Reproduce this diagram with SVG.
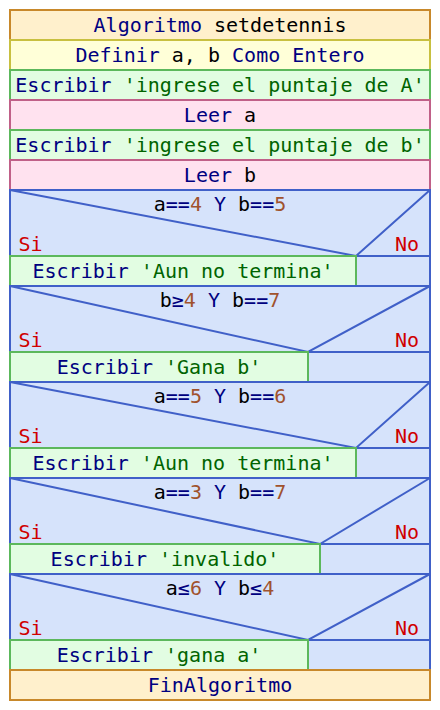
<svg xmlns="http://www.w3.org/2000/svg" width="440" height="710" viewBox="0 0 440 710">
<style>
text{font-family:"DejaVu Sans Mono","Liberation Mono",monospace;font-size:20px;fill:#000000}
.c{text-anchor:middle}
.k{fill:#000080}
.s{fill:#006400}
.n{fill:#a0522d}
.v{fill:#000000}
.r{fill:#d00000}
.alg{fill:#fff0cc;stroke:#c8882a;stroke-width:2}
.def{fill:#ffffd8;stroke:#c8c040;stroke-width:2}
.esc{fill:#e2fde2;stroke:#5cb85c;stroke-width:2}
.lee{fill:#ffe2ef;stroke:#c06088;stroke-width:2}
.si{fill:#d6e3fb;stroke:#4060c8;stroke-width:2}
.dl{fill:none;stroke:#4060c8;stroke-width:2}
</style>
<rect x="0" y="0" width="440" height="710" fill="#ffffff"/>
<g id="n-algoritmo"><rect class="alg" x="10" y="10" width="420" height="30"/><text class="c" x="220" y="32"><tspan class="k">Algoritmo</tspan> <tspan class="v">setdetennis</tspan></text></g>
<g id="n-definir"><rect class="def" x="10" y="40" width="420" height="30"/><text class="c" x="220" y="62"><tspan class="k">Definir</tspan> <tspan class="v">a, b</tspan> <tspan class="k">Como Entero</tspan></text></g>
<g id="n-escribir1"><rect class="esc" x="10" y="70" width="420" height="30"/><text class="c" x="220" y="92"><tspan class="k">Escribir</tspan> <tspan class="s">'ingrese el puntaje de A'</tspan></text></g>
<g id="n-leer1"><rect class="lee" x="10" y="100" width="420" height="30"/><text class="c" x="220" y="122"><tspan class="k">Leer</tspan> <tspan class="v">a</tspan></text></g>
<g id="n-escribir2"><rect class="esc" x="10" y="130" width="420" height="30"/><text class="c" x="220" y="152"><tspan class="k">Escribir</tspan> <tspan class="s">'ingrese el puntaje de b'</tspan></text></g>
<g id="n-leer2"><rect class="lee" x="10" y="160" width="420" height="30"/><text class="c" x="220" y="182"><tspan class="k">Leer</tspan> <tspan class="v">b</tspan></text></g>

<g id="n-si1">
<rect class="si" x="10" y="190" width="420" height="96"/>
<line class="dl" x1="356" y1="256" x2="430" y2="256"/>
<polyline class="dl" points="10,190 356,256 430,190"/>
<text class="c" x="220" y="211"><tspan class="v">a</tspan><tspan class="k">==</tspan><tspan class="n">4</tspan> <tspan class="k">Y</tspan> <tspan class="v">b</tspan><tspan class="k">==</tspan><tspan class="n">5</tspan></text>
<text class="r" x="18.5" y="250.5">Si</text>
<text class="r" x="419" y="250.5" text-anchor="end">No</text>
</g>
<g id="n-escribir3"><rect class="esc" x="10" y="256" width="346" height="30"/><text class="c" x="183" y="278"><tspan class="k">Escribir</tspan> <tspan class="s">'Aun no termina'</tspan></text></g>

<g id="n-si2">
<rect class="si" x="10" y="286" width="420" height="96"/>
<line class="dl" x1="308" y1="352" x2="430" y2="352"/>
<polyline class="dl" points="10,286 308,352 430,286"/>
<text class="c" x="220" y="307"><tspan class="v">b</tspan><tspan class="k">≥</tspan><tspan class="n">4</tspan> <tspan class="k">Y</tspan> <tspan class="v">b</tspan><tspan class="k">==</tspan><tspan class="n">7</tspan></text>
<text class="r" x="18.5" y="346.5">Si</text>
<text class="r" x="419" y="346.5" text-anchor="end">No</text>
</g>
<g id="n-escribir4"><rect class="esc" x="10" y="352" width="298" height="30"/><text class="c" x="159" y="374"><tspan class="k">Escribir</tspan> <tspan class="s">'Gana b'</tspan></text></g>

<g id="n-si3">
<rect class="si" x="10" y="382" width="420" height="96"/>
<line class="dl" x1="356" y1="448" x2="430" y2="448"/>
<polyline class="dl" points="10,382 356,448 430,382"/>
<text class="c" x="220" y="403"><tspan class="v">a</tspan><tspan class="k">==</tspan><tspan class="n">5</tspan> <tspan class="k">Y</tspan> <tspan class="v">b</tspan><tspan class="k">==</tspan><tspan class="n">6</tspan></text>
<text class="r" x="18.5" y="442.5">Si</text>
<text class="r" x="419" y="442.5" text-anchor="end">No</text>
</g>
<g id="n-escribir5"><rect class="esc" x="10" y="448" width="346" height="30"/><text class="c" x="183" y="470"><tspan class="k">Escribir</tspan> <tspan class="s">'Aun no termina'</tspan></text></g>

<g id="n-si4">
<rect class="si" x="10" y="478" width="420" height="96"/>
<line class="dl" x1="320" y1="544" x2="430" y2="544"/>
<polyline class="dl" points="10,478 320,544 430,478"/>
<text class="c" x="220" y="499"><tspan class="v">a</tspan><tspan class="k">==</tspan><tspan class="n">3</tspan> <tspan class="k">Y</tspan> <tspan class="v">b</tspan><tspan class="k">==</tspan><tspan class="n">7</tspan></text>
<text class="r" x="18.5" y="538.5">Si</text>
<text class="r" x="419" y="538.5" text-anchor="end">No</text>
</g>
<g id="n-escribir6"><rect class="esc" x="10" y="544" width="310" height="30"/><text class="c" x="165" y="566"><tspan class="k">Escribir</tspan> <tspan class="s">'invalido'</tspan></text></g>

<g id="n-si5">
<rect class="si" x="10" y="574" width="420" height="96"/>
<line class="dl" x1="308" y1="640" x2="430" y2="640"/>
<polyline class="dl" points="10,574 308,640 430,574"/>
<text class="c" x="220" y="595"><tspan class="v">a</tspan><tspan class="k">≤</tspan><tspan class="n">6</tspan> <tspan class="k">Y</tspan> <tspan class="v">b</tspan><tspan class="k">≤</tspan><tspan class="n">4</tspan></text>
<text class="r" x="18.5" y="634.5">Si</text>
<text class="r" x="419" y="634.5" text-anchor="end">No</text>
</g>
<g id="n-escribir7"><rect class="esc" x="10" y="640" width="298" height="30"/><text class="c" x="159" y="662"><tspan class="k">Escribir</tspan> <tspan class="s">'gana a'</tspan></text></g>

<g id="n-fin"><rect class="alg" x="10" y="670" width="420" height="30"/><text class="c" x="220" y="692"><tspan class="k">FinAlgoritmo</tspan></text></g>
<g id="connectors"></g>
</svg>
